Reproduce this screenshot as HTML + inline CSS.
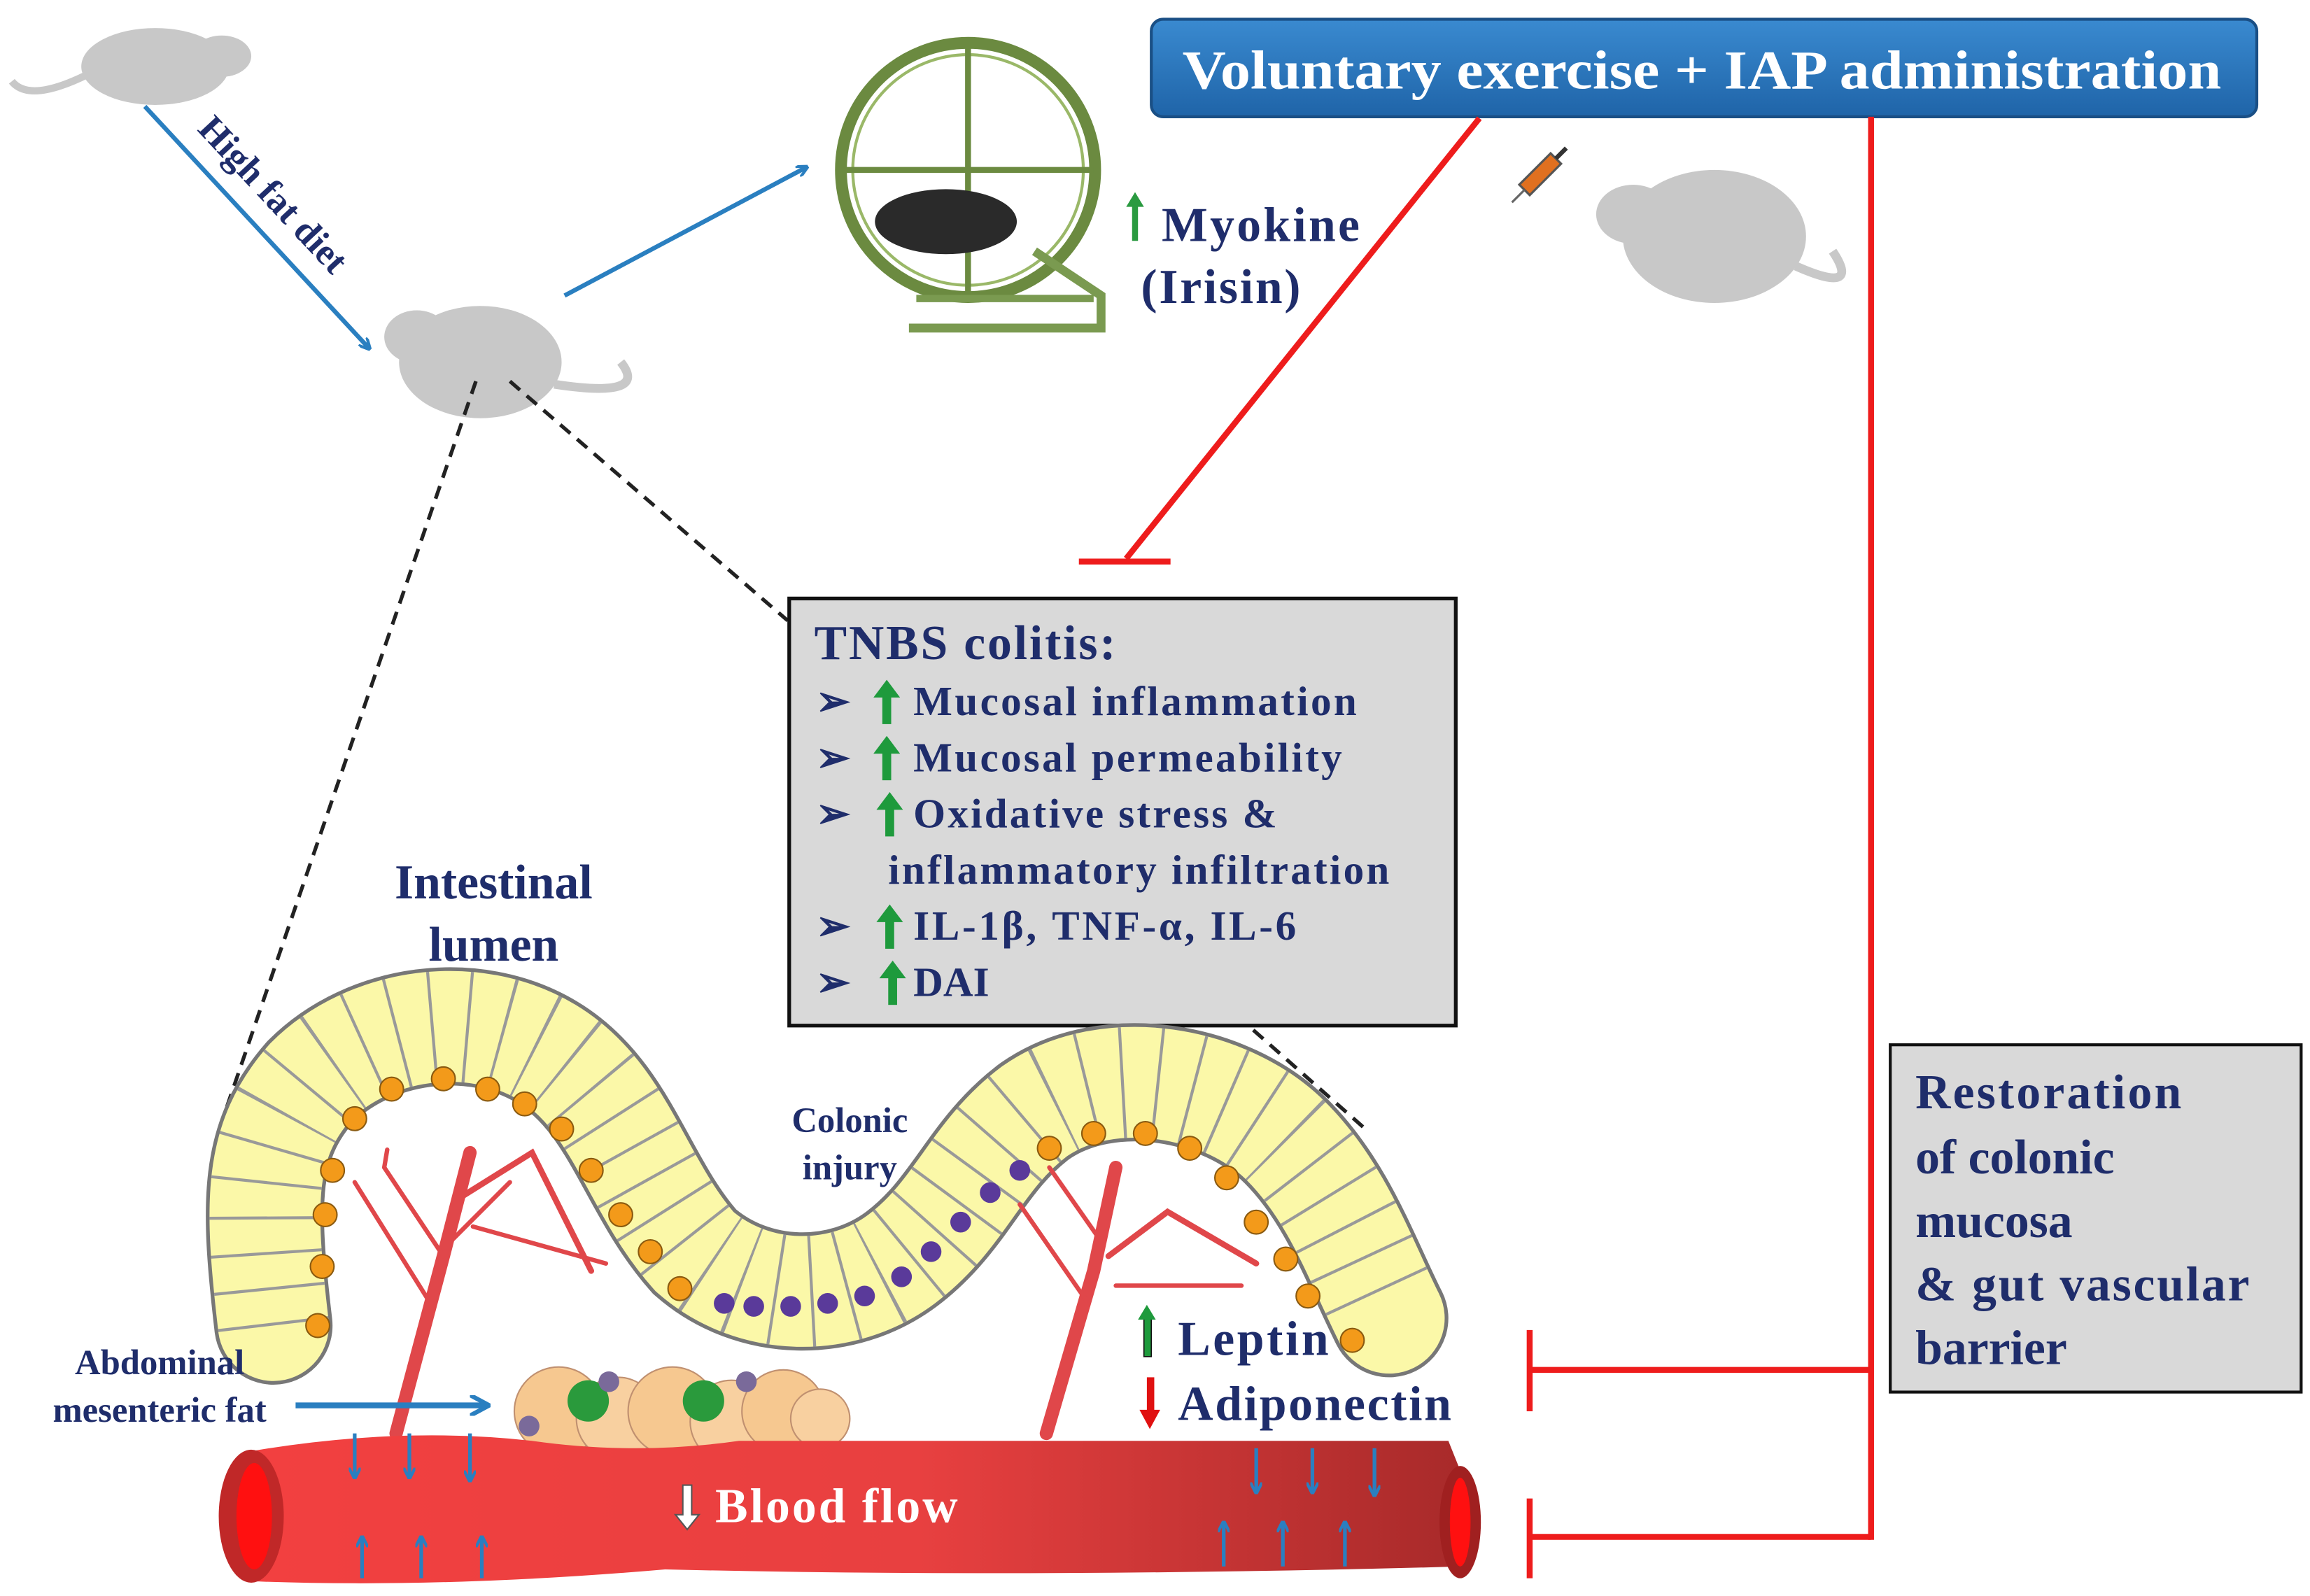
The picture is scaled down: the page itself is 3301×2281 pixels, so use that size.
<!DOCTYPE html>
<html><head><meta charset="utf-8"><style>
html,body{margin:0;padding:0;background:#fff;}
svg{display:block;}
text{font-family:"Liberation Serif",serif;font-weight:bold;}
</style></head><body>
<svg width="3301" height="2281" viewBox="0 0 1563 1080" preserveAspectRatio="none" xmlns="http://www.w3.org/2000/svg">
<defs>
<linearGradient id="vessel" x1="0" x2="1" y1="0" y2="0">
<stop offset="0" stop-color="#f24040"/><stop offset="0.55" stop-color="#e84040"/><stop offset="1" stop-color="#a82a2a"/>
</linearGradient>
<linearGradient id="hdr" x1="0" x2="0" y1="0" y2="1">
<stop offset="0" stop-color="#3a8ad0"/><stop offset="1" stop-color="#1f64a8"/>
</linearGradient>
<marker id="ab" markerWidth="8" markerHeight="8" refX="7" refY="4" orient="auto" markerUnits="userSpaceOnUse"><path d="M0,0 L8,4 L0,8" fill="none" stroke="#2a7fc0" stroke-width="2"/></marker>
<marker id="abig" markerWidth="14" markerHeight="14" refX="12" refY="7" orient="auto" markerUnits="userSpaceOnUse"><path d="M0,0 L13,7 L0,14" fill="none" stroke="#2a7fc0" stroke-width="3"/></marker>
</defs>
<rect width="1563" height="1080" fill="#fff"/>

<!-- mice -->
<g fill="#c8c8c8">
<ellipse cx="105" cy="45" rx="50" ry="26"/><ellipse cx="150" cy="38" rx="20" ry="14"/>
<path d="M60,50 Q20,70 8,55" stroke="#c8c8c8" stroke-width="5" fill="none"/>
<ellipse cx="325" cy="245" rx="55" ry="38"/><ellipse cx="282" cy="228" rx="22" ry="18"/>
<path d="M375,260 Q440,270 420,245" stroke="#c8c8c8" stroke-width="6" fill="none"/>
<ellipse cx="1160" cy="160" rx="62" ry="45"/><ellipse cx="1105" cy="145" rx="25" ry="20"/>
<path d="M1215,180 Q1260,200 1240,170" stroke="#c8c8c8" stroke-width="6" fill="none"/>
</g>
<g transform="translate(1040,120) rotate(45)"><rect x="-5" y="-18" width="10" height="30" fill="#e07020" stroke="#555" stroke-width="1.5"/><line x1="0" y1="-18" x2="0" y2="-28" stroke="#333" stroke-width="3"/><line x1="0" y1="12" x2="0" y2="24" stroke="#666" stroke-width="1.5"/></g>

<line x1="98" y1="72" x2="250" y2="236" stroke="#2a7fc0" stroke-width="3" marker-end="url(#ab)"/>
<text x="0" y="0" transform="translate(133,88) rotate(47)" font-size="25" fill="#1f2d6b">High fat diet</text>
<line x1="382" y1="200" x2="546" y2="113" stroke="#2a7fc0" stroke-width="3" marker-end="url(#ab)"/>

<circle cx="655" cy="115" r="86" fill="none" stroke="#6b8a40" stroke-width="8"/>
<circle cx="655" cy="115" r="78" fill="none" stroke="#9ab868" stroke-width="2"/>
<line x1="655" y1="30" x2="655" y2="200" stroke="#6b8a40" stroke-width="4"/>
<line x1="570" y1="115" x2="740" y2="115" stroke="#6b8a40" stroke-width="4"/>
<path d="M700,170 L745,200 L745,222 L615,222" fill="none" stroke="#7a9a50" stroke-width="6"/>
<line x1="620" y1="202" x2="740" y2="202" stroke="#7a9a50" stroke-width="5"/>
<ellipse cx="640" cy="150" rx="48" ry="22" fill="#2a2a2a"/>

<rect x="766" y="135" width="4" height="28" fill="#2a9a40"/><path d="M762,140 L768,130 L774,140Z" fill="#2a9a40"/>
<text x="786" y="163" font-size="33" fill="#1f2d6b" textLength="134">Myokine</text>
<text x="772" y="205" font-size="33" fill="#1f2d6b" textLength="108">(Irisin)</text>

<rect x="779" y="13" width="748" height="66" rx="8" fill="url(#hdr)" stroke="#1a4f85" stroke-width="2"/>
<text x="800" y="60" font-size="37" fill="#fff" textLength="703" lengthAdjust="spacingAndGlyphs">Voluntary exercise + IAP administration</text>

<g stroke="#ee1c1c" stroke-width="4" fill="none">
<line x1="1001" y1="80" x2="762" y2="378"/>
<line x1="730" y1="380" x2="792" y2="380"/>
<line x1="1266" y1="79" x2="1266" y2="1042"/>
<line x1="1035" y1="927" x2="1266" y2="927"/>
<line x1="1035" y1="900" x2="1035" y2="955"/>
<line x1="1035" y1="1040" x2="1266" y2="1040"/>
<line x1="1035" y1="1014" x2="1035" y2="1068"/>
</g>

<g stroke="#222" stroke-width="2.5" stroke-dasharray="9,6" fill="none">
<line x1="322" y1="258" x2="148" y2="765"/>
<line x1="345" y1="258" x2="533" y2="420"/>
<line x1="848" y1="697" x2="925" y2="765"/>
</g>

<rect x="534" y="405" width="451" height="289" fill="#d9d9d9" stroke="#111" stroke-width="2.5"/>
<text x="551" y="446" font-size="33" fill="#1f2d6b" textLength="204">TNBS colitis:</text>
<g font-size="28" fill="#1f2d6b">
<text x="552" y="484">➢</text><text x="618" y="484" textLength="300">Mucosal inflammation</text>
<text x="552" y="522">➢</text><text x="618" y="522" textLength="290">Mucosal permeability</text>
<text x="552" y="560">➢</text><text x="618" y="560" textLength="246">Oxidative stress &amp;</text>
<text x="601" y="598" textLength="339">inflammatory infiltration</text>
<text x="552" y="636">➢</text><text x="618" y="636" textLength="259">IL-1β, TNF-α, IL-6</text>
<text x="552" y="674">➢</text><text x="618" y="674">DAI</text>
</g>
<g fill="#1e9a3c">
<rect x="597" y="470" width="6" height="20"/><path d="M591,472 L600,460 L609,472Z"/>
<rect x="597" y="508" width="6" height="20"/><path d="M591,510 L600,498 L609,510Z"/>
<rect x="599" y="546" width="6" height="20"/><path d="M593,548 L602,536 L611,548Z"/>
<rect x="599" y="622" width="6" height="20"/><path d="M593,624 L602,612 L611,624Z"/>
<rect x="601" y="660" width="6" height="20"/><path d="M595,662 L604,650 L613,662Z"/>
</g>

<rect x="1279" y="707" width="278" height="235" fill="#d9d9d9" stroke="#111" stroke-width="2"/>
<g font-size="33" fill="#1f2d6b">
<text x="1296" y="750" textLength="180">Restoration</text>
<text x="1296" y="794">of colonic</text>
<text x="1296" y="837">mucosa</text>
<text x="1296" y="880" textLength="226">&amp; gut vascular</text>
<text x="1296" y="923">barrier</text>
</g>

<g transform="translate(0,12)">
<g fill="none" stroke-linecap="round">
<path d="M185,885 C175,800 175,760 210,720 C250,680 320,670 370,700 C420,730 430,790 470,835 C510,870 570,870 610,840 C650,810 660,770 700,740 C750,705 830,720 870,760 C905,795 920,840 940,880" stroke="#777" stroke-width="80"/>
<path d="M185,885 C175,800 175,760 210,720 C250,680 320,670 370,700 C420,730 430,790 470,835 C510,870 570,870 610,840 C650,810 660,770 700,740 C750,705 830,720 870,760 C905,795 920,840 940,880" stroke="#fbf8a8" stroke-width="75"/>
<path d="M185,885 C175,800 175,760 210,720 C250,680 320,670 370,700 C420,730 430,790 470,835 C510,870 570,870 610,840 C650,810 660,770 700,740 C750,705 830,720 870,760 C905,795 920,840 940,880" stroke="#999" stroke-width="75" stroke-dasharray="2,22" stroke-linecap="butt"/>
</g>
<g fill="#f39a1a" stroke="#8a5a10" stroke-width="1">
<circle cx="215" cy="885" r="8"/><circle cx="218" cy="845" r="8"/><circle cx="220" cy="810" r="8"/><circle cx="225" cy="780" r="8"/><circle cx="240" cy="745" r="8"/><circle cx="265" cy="725" r="8"/><circle cx="300" cy="718" r="8"/><circle cx="330" cy="725" r="8"/><circle cx="355" cy="735" r="8"/><circle cx="380" cy="752" r="8"/><circle cx="400" cy="780" r="8"/><circle cx="420" cy="810" r="8"/><circle cx="440" cy="835" r="8"/><circle cx="460" cy="860" r="8"/>
<circle cx="710" cy="765" r="8"/><circle cx="740" cy="755" r="8"/><circle cx="775" cy="755" r="8"/><circle cx="805" cy="765" r="8"/><circle cx="830" cy="785" r="8"/><circle cx="850" cy="815" r="8"/><circle cx="870" cy="840" r="8"/><circle cx="885" cy="865" r="8"/><circle cx="915" cy="895" r="8"/>
</g>
<g fill="#5a3a9a">
<circle cx="490" cy="870" r="7"/><circle cx="510" cy="872" r="7"/><circle cx="535" cy="872" r="7"/><circle cx="560" cy="870" r="7"/><circle cx="585" cy="865" r="7"/><circle cx="610" cy="852" r="7"/><circle cx="630" cy="835" r="7"/><circle cx="650" cy="815" r="7"/><circle cx="670" cy="795" r="7"/><circle cx="690" cy="780" r="7"/>
</g>
</g>

<g stroke="#e0474a" fill="none" stroke-linecap="round">
<path d="M268,970 L300,850 L318,780" stroke-width="9"/>
<path d="M300,850 L260,790 L262,778" stroke-width="3"/>
<path d="M290,880 L240,800" stroke-width="3"/>
<path d="M312,810 L360,780 L400,860" stroke-width="4"/>
<path d="M305,840 L345,800" stroke-width="3"/>
<path d="M320,830 L410,855" stroke-width="3"/>
<path d="M708,970 L740,860 L755,790" stroke-width="9"/>
<path d="M735,880 L690,815" stroke-width="3"/>
<path d="M745,840 L710,790" stroke-width="3"/>
<path d="M750,850 L790,820 L850,855" stroke-width="4"/>
<path d="M755,870 L840,870" stroke-width="3"/>
</g>

<g stroke="#c09070" stroke-width="1">
<circle cx="378" cy="955" r="30" fill="#f6c890"/><circle cx="418" cy="960" r="28" fill="#f8d0a0"/><circle cx="455" cy="955" r="30" fill="#f6c890"/><circle cx="495" cy="962" r="28" fill="#f8d0a0"/><circle cx="530" cy="955" r="28" fill="#f6c890"/><circle cx="555" cy="960" r="20" fill="#f8d0a0"/>
</g>
<circle cx="398" cy="948" r="14" fill="#2a9a3c"/><circle cx="476" cy="948" r="14" fill="#2a9a3c"/>
<circle cx="412" cy="935" r="7" fill="#7a6a9a"/><circle cx="505" cy="935" r="7" fill="#7a6a9a"/><circle cx="358" cy="965" r="7" fill="#7a6a9a"/>

<path d="M170,982 Q270,965 360,975 Q430,985 500,975 L980,975 L990,1000 L990,1060 Q700,1068 450,1062 Q300,1075 170,1070 Z" fill="url(#vessel)"/>
<ellipse cx="170" cy="1026" rx="22" ry="45" fill="#c02828"/><ellipse cx="172" cy="1026" rx="12" ry="36" fill="#ff1010"/>
<ellipse cx="988" cy="1030" rx="14" ry="38" fill="#a02020"/><ellipse cx="988" cy="1030" rx="7" ry="30" fill="#ff1010"/>

<g stroke="#2a7fc0" stroke-width="2.5" marker-end="url(#ab)">
<line x1="240" y1="970" x2="240" y2="1000"/><line x1="277" y1="970" x2="277" y2="1000"/><line x1="318" y1="970" x2="318" y2="1002"/>
<line x1="245" y1="1068" x2="245" y2="1040"/><line x1="285" y1="1068" x2="285" y2="1040"/><line x1="326" y1="1068" x2="326" y2="1040"/>
<line x1="850" y1="980" x2="850" y2="1010"/><line x1="888" y1="980" x2="888" y2="1010"/><line x1="930" y1="980" x2="930" y2="1012"/>
<line x1="828" y1="1060" x2="828" y2="1030"/><line x1="868" y1="1060" x2="868" y2="1030"/><line x1="910" y1="1060" x2="910" y2="1030"/>
</g>
<line x1="200" y1="951" x2="330" y2="951" stroke="#2a7fc0" stroke-width="4" marker-end="url(#abig)"/>

<path d="M462,1005 L462,1025 L457,1025 L465,1035 L473,1025 L468,1025 L468,1005Z" fill="#fff" stroke="#555" stroke-width="1"/>
<text x="484" y="1030" font-size="33" fill="#fff" textLength="164">Blood flow</text>

<g fill="#1f2d6b">
<text x="334" y="608" font-size="33" text-anchor="middle">Intestinal</text>
<text x="334" y="650" font-size="33" text-anchor="middle">lumen</text>
<text x="575" y="766" font-size="24" text-anchor="middle">Colonic</text>
<text x="575" y="798" font-size="24" text-anchor="middle">injury</text>
<text x="108" y="930" font-size="24" text-anchor="middle">Abdominal</text>
<text x="108" y="962" font-size="24" text-anchor="middle">mesenteric fat</text>
<text x="797" y="917" font-size="33" textLength="102">Leptin</text>
<text x="797" y="961" font-size="33" textLength="185">Adiponectin</text>
</g>
<rect x="774" y="890" width="5" height="28" fill="#1e9a3c" stroke="#111" stroke-width="0.8"/><path d="M770,893 L776,883 L782,893Z" fill="#1e9a3c"/>
<rect x="776" y="932" width="5" height="24" fill="#e01010"/><path d="M771,954 L778,967 L785,954Z" fill="#e01010"/>
</svg>
</body></html>
